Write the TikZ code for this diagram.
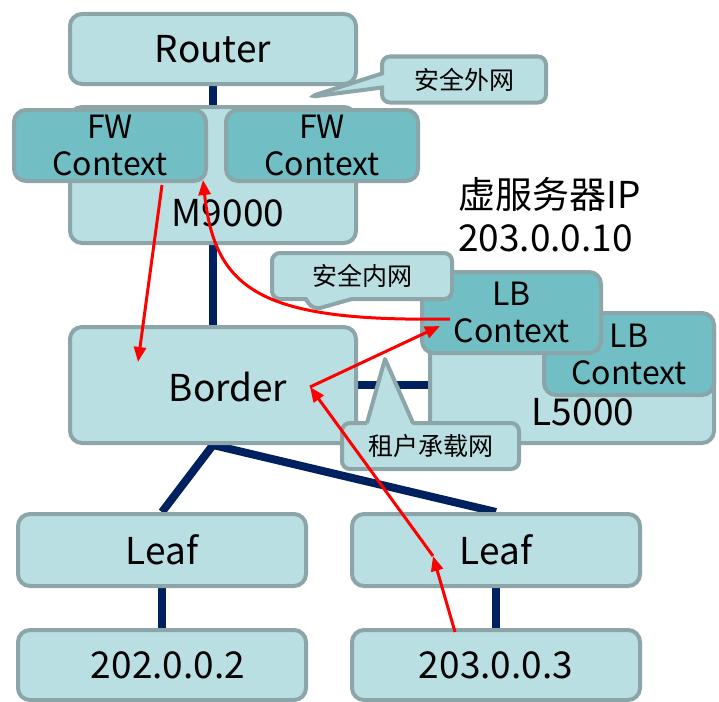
\documentclass[tikz,border=0pt]{standalone}
\usepackage{fontspec}
\setmainfont{Noto Sans CJK SC}
\usetikzlibrary{arrows.meta,calc,shapes.callouts,backgrounds}

\definecolor{boxfill}{HTML}{BADFE2}
\definecolor{boxline}{HTML}{8CA5A8}
\definecolor{ctxfill}{HTML}{72BEC5}
\definecolor{linkblue}{HTML}{002060}

\tikzset{
  box/.style={draw=boxline, fill=boxfill, line width=4pt, rounded corners=12pt, inner sep=0pt, font=\fontsize{37}{40}\selectfont},
  ctx/.style={box, fill=ctxfill, align=center, font=\fontsize{32}{37}\selectfont},
  devname/.style={inner sep=0pt, font=\fontsize{37}{40}\selectfont},
  notebox/.style={draw=boxline, fill=boxfill, line width=4pt, rounded corners=8pt, inner sep=0pt, minimum height=46pt, font=\fontsize{25}{30}\selectfont},
  note/.style={notebox, rectangle callout},
  link/.style={linkblue, line width=8pt},
  flow/.style={red, line width=3pt, -{Triangle[length=15pt,width=12pt]}}
}

\begin{document}
\begin{tikzpicture}[x=1pt,y=-1pt]
    \useasboundingbox (0,0) rectangle (719,701);

    \node[box, minimum width=286pt, minimum height=136pt] (m9000) at (213,175) {};
    \node[devname] (m9000name) at (228,213) {M9000};

    \node[box, minimum width=284pt, minimum height=123pt] (l5000) at (572,381.5) {};
    \node[devname] (l5000name) at (583,412) {L5000};

    \node[box, minimum width=286pt, minimum height=70pt] (router) at (213,49) {Router};

    \node[ctx, minimum width=192pt, minimum height=71pt] (fw1) at (110,145.5) {FW\\Context};
    \node[ctx, minimum width=192pt, minimum height=71pt] (fw2) at (322,145.5) {FW\\Context};

    \node[ctx, minimum width=170pt, minimum height=82pt] (lb2) at (629,354) {LB\\Context};
    \node[ctx, minimum width=179pt, minimum height=81pt] (lb1) at (511.5,312.5) {LB\\Context};

    \node[box, minimum width=286pt, minimum height=116pt] (border) at (213,385) {};
    \node[devname] (bordername) at (228,387) {Border};

    \node[box, minimum width=288pt, minimum height=72pt] (leaf1) at (162,550) {Leaf};
    \node[box, minimum width=288pt, minimum height=72pt] (leaf2) at (496,550) {Leaf};

    \node[box, minimum width=288pt, minimum height=70pt] (ip1) at (162,665) {};
    \node[devname] (ip1name) at (168,665) {202.0.0.2};
    \node[box, minimum width=288pt, minimum height=70pt] (ip2) at (496,665) {203.0.0.3};

    \node[devname, anchor=west, align=left, font=\fontsize{37}{43}\selectfont] (vip) at (458,215) {虚服务器IP\\203.0.0.10};

    \coordinate (outtip) at (309,97);
    \coordinate (intip) at (313,310);
    \coordinate (tenanttip) at (385,359);

    \node[note, minimum width=164pt, callout pointer width=14pt, callout absolute pointer=(outtip)] (outnet) at (464,79.5) {安全外网};
    \node[note, minimum width=180pt, callout pointer width=46pt, callout absolute pointer=(intip)] (innet) at (362,276) {安全内网};

    \node[notebox, minimum width=177pt] (tenant) at (430.5,446) {租户承载网};
    \fill[boxfill] ($(tenant.north)+(-64,6)$) -- (tenanttip) -- ($(tenant.north)+(-17,6)$) -- cycle;
    \draw[boxline, line width=4pt, line join=round] ($(tenant.north)+(-63.5,2)$) -- (tenanttip) -- ($(tenant.north)+(-17.5,2)$);

    \begin{scope}[on background layer]
        \draw[link] (router.center) -- (border.center);
        \draw[link] (border.center) -- (border.center -| l5000.center);
        \draw[link] (leaf1.north) -- (border.south) -- (leaf2.north);
        \draw[link] (leaf1.center) -- (ip1.center);
        \draw[link] (leaf2.center) -- (ip2.center);
    \end{scope}

    \coordinate (fwout) at ($(fw1.center)+(52,39.5)$);
    \coordinate (borderin) at ($(border.center)+(-75,-23)$);
    \coordinate (lbout) at ($(lb1.center)+(-61.5,6.5)$);
    \coordinate (fwin) at ($(fw1.center)+(93,34.5)$);
    \coordinate (ipout) at ($(ip2.center)+(-41,-33)$);
    \coordinate (leafpt) at ($(leaf2.center)+(-63,6)$);
    \coordinate (borderpt) at ($(border.center)+(97,2)$);
    \coordinate (lbin) at ($(lb1.center)+(-71.5,13.5)$);

    \draw[flow] (fwout) -- (borderin);
    \draw[flow] (lbout) .. controls (260,322) and (215,290) .. (fwin);
    \draw[flow] (ipout) -- (leafpt);
    \draw[flow] (leafpt) -- (borderpt);
    \draw[flow] (borderpt) -- (lbin);
\end{tikzpicture}
\end{document}
